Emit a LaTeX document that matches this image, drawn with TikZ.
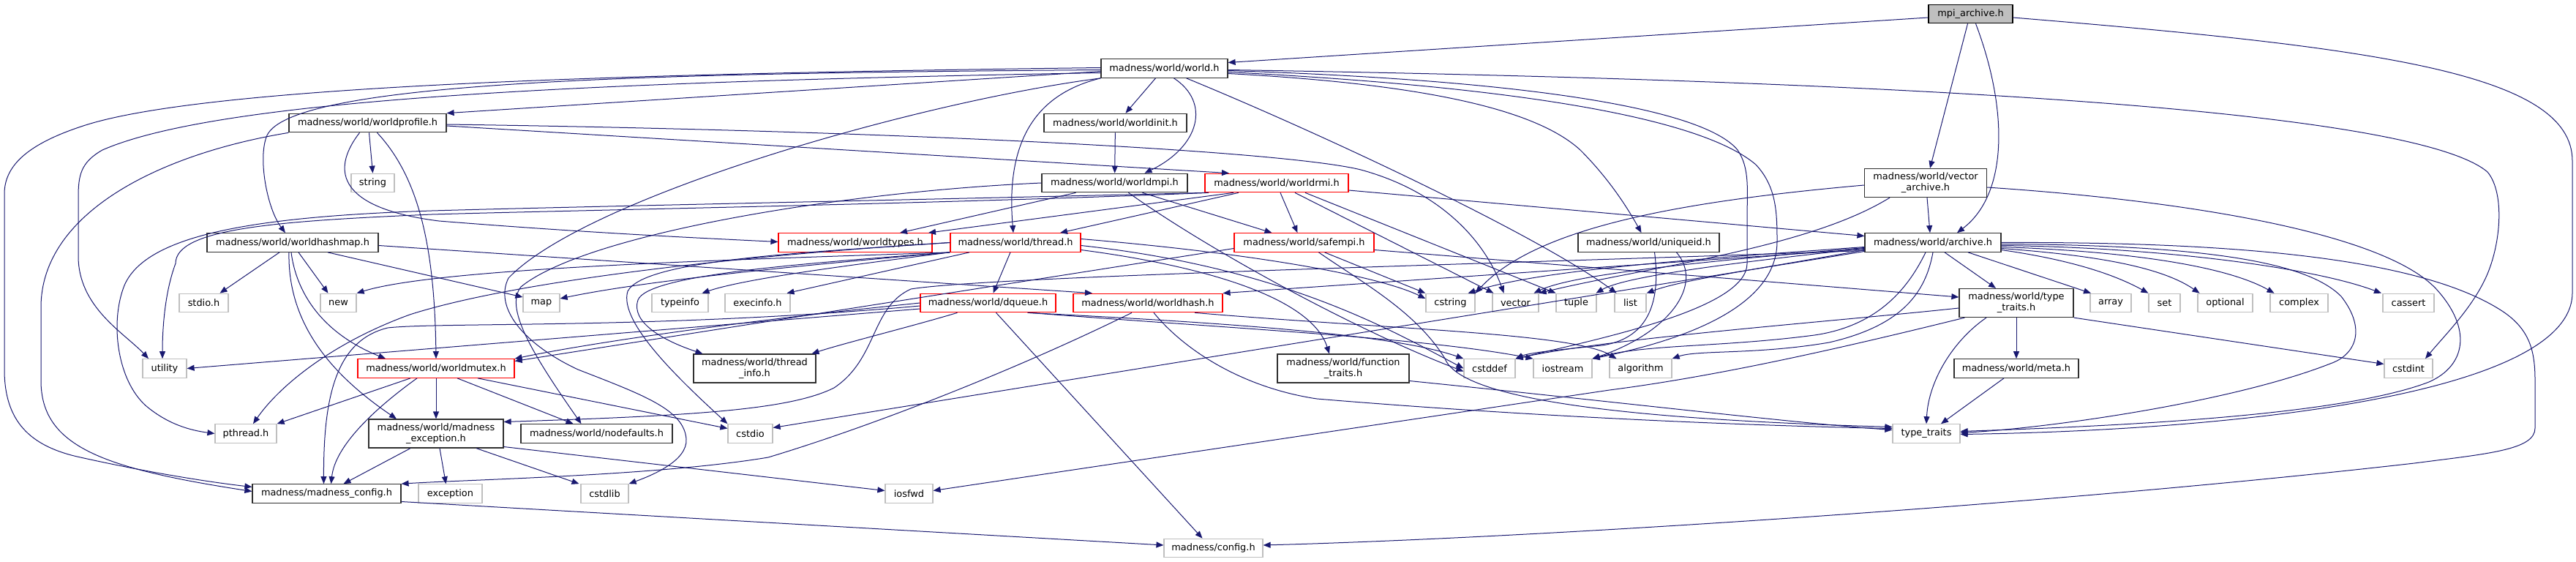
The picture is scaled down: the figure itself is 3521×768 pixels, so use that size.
\documentclass[tikz,border=0pt]{standalone}
\usepackage{fontspec}
\setmainfont{DejaVu Sans}
\usetikzlibrary{arrows.meta}
\definecolor{edgec}{HTML}{191970}
\definecolor{docc}{HTML}{303030}
\definecolor{truncc}{HTML}{FF0000}
\definecolor{extc}{HTML}{BFBFBF}
\definecolor{rootc}{HTML}{BFBFBF}
\newcommand\nodefont{\fontsize{12.9bp}{15bp}\selectfont}
\tikzset{
  box/.style={rectangle, inner sep=0pt, minimum height=25.5bp, font=\nodefont, line width=1.2bp, fill=white},
  doc/.style={box, draw=docc},
  trunc/.style={box, draw=truncc},
  ext/.style={box, draw=extc},
  root/.style={box, draw=black, fill=rootc},
  mw/.style={minimum width=#1bp},
  tall/.style={minimum height=39bp, align=center},
  ar/.style={draw=edgec, line width=1bp, -{Triangle[length=10bp,width=8bp]}}
}
\begin{document}
\begin{tikzpicture}[x=1bp,y=-1bp]
\path[use as bounding box] (0,0) rectangle (3521,768);
% ---- nodes ----
\node[root,mw=115] (mpi) at (2693.5,19) {mpi\_archive.h};
\node[doc,mw=173] (world) at (1591.5,93.5) {madness/world/world.h};
\node[doc,mw=215] (wprof) at (502.5,168) {madness/world/worldprofile.h};
\node[doc,mw=195] (winit) at (1524.5,168) {madness/world/worldinit.h};
\node[doc,mw=167,tall] (varch) at (2632,250) {madness/world/vector\\\_archive.h};
\node[doc,mw=199] (wmpi) at (1523.5,250) {madness/world/worldmpi.h};
\node[trunc,mw=196] (wrmi) at (1745,250) {madness/world/worldrmi.h};
\node[ext,mw=59] (string) at (509.5,250) {string};
\node[doc,mw=234] (whmap) at (400,331.5) {madness/world/worldhashmap.h};
\node[trunc,mw=210] (wtypes) at (1169,331.5) {madness/world/worldtypes.h};
\node[trunc,mw=178] (thread) at (1388,331.5) {madness/world/thread.h};
\node[trunc,mw=191] (safempi) at (1782.5,331.5) {madness/world/safempi.h};
\node[doc,mw=193] (uniqueid) at (2253.5,331.5) {madness/world/uniqueid.h};
\node[doc,mw=186] (archive) at (2642,331.5) {madness/world/archive.h};
\node[ext,mw=67] (stdio) at (278.5,414) {stdio.h};
\node[ext,mw=49] (new) at (462.5,414) {new};
\node[ext,mw=50] (map) at (740,414) {map};
\node[ext,mw=77] (typeinfo) at (929.5,414) {typeinfo};
\node[ext,mw=89] (execinfo) at (1035.5,414) {execinfo.h};
\node[trunc,mw=185] (dqueue) at (1350.5,414) {madness/world/dqueue.h};
\node[trunc,mw=204] (whash) at (1569,414) {madness/world/worldhash.h};
\node[ext,mw=67] (cstring) at (1982.5,414) {cstring};
\node[ext,mw=63] (vector) at (2071.5,414) {vector};
\node[ext,mw=55] (tuple) at (2154.5,414) {tuple};
\node[ext,mw=43] (list) at (2228.5,414) {list};
\node[doc,mw=156,tall] (ttrh) at (2756,414) {madness/world/type\\\_traits.h};
\node[ext,mw=56] (array) at (2885,414) {array};
\node[ext,mw=43] (set) at (2958.5,414) {set};
\node[ext,mw=75] (optional) at (3041.5,414) {optional};
\node[ext,mw=79] (complex) at (3142.5,414) {complex};
\node[ext,mw=70] (cassert) at (3292,414) {cassert};
\node[ext,mw=60] (util) at (225,503.5) {utility};
\node[trunc,mw=214] (wmutex) at (596,503.5) {madness/world/worldmutex.h};
\node[doc,mw=167,tall] (tinfo) at (1031.5,503.5) {madness/world/thread\\\_info.h};
\node[doc,mw=180,tall] (ftraits) at (1836,503.5) {madness/world/function\\\_traits.h};
\node[ext,mw=70] (cstddef) at (2036,503.5) {cstddef};
\node[ext,mw=80] (iostream) at (2136,503.5) {iostream};
\node[ext,mw=85] (algo) at (2242.5,503.5) {algorithm};
\node[doc,mw=170] (meta) at (2756,503.5) {madness/world/meta.h};
\node[ext,mw=66] (cstdint) at (3292,503.5) {cstdint};
\node[ext,mw=84] (pthread) at (336,592.5) {pthread.h};
\node[doc,mw=184,tall] (mexc) at (596,592.5) {madness/world/madness\\\_exception.h};
\node[doc,mw=207] (nodef) at (815.5,592.5) {madness/world/nodefaults.h};
\node[ext,mw=61] (cstdio) at (1025.5,592.5) {cstdio};
\node[ext,mw=92] (ttr) at (2633,592.5) {type\_traits};
\node[doc,mw=203] (mcfg) at (446.5,674.5) {madness/madness\_config.h};
\node[ext,mw=87] (exception) at (615.5,674.5) {exception};
\node[ext,mw=65] (cstdlib) at (826.5,674.5) {cstdlib};
\node[ext,mw=65] (iosfwd) at (1242.5,674.5) {iosfwd};
\node[ext,mw=135] (config) at (1658.5,749) {madness/config.h};
% ---- edges: mpi_archive.h ----
\draw[ar] ([yshift=-5bp]mpi.west) -- ([yshift=8bp]world.east);
\draw[ar] ([xshift=-4bp]mpi.south) -- ([xshift=6bp]varch.north);
\draw[ar] ([xshift=7bp]mpi.south) .. controls (2745,150) and (2745,265) .. ([xshift=33bp]archive.north);
\draw[ar] ([yshift=-5bp]mpi.east) .. controls (3250,65) and (3516,100) .. (3516,220) -- (3516,400) .. controls (3516,540) and (3050,588) .. ([yshift=-1bp]ttr.east);
% ---- world.h ----
\draw[ar] ([yshift=-4bp]world.west) -- (wprof.north east);
\draw[ar] ([xshift=-12bp]world.south) -- ([xshift=14bp]winit.north);
\draw[ar] ([xshift=13bp]world.south) .. controls (1655,140) and (1640,200) .. ([xshift=41bp]wmpi.north);
\draw[ar] (world.south west) .. controls (1410,130) and (1375,200) .. ([xshift=-3bp]thread.north);
\draw[ar] ([yshift=-2bp]world.west) .. controls (900,100) and (400,110) .. (365,185) .. controls (352,215) and (365,285) .. ([xshift=-10bp]whmap.north);
\draw[ar] ([yshift=1bp]world.west) .. controls (900,100) and (300,115) .. (120,170) .. controls (40,195) and (6,225) .. (6,265) -- (6,505) .. controls (6,575) and (40,610) .. (110,625) .. controls (200,645) and (280,658) .. ([yshift=9bp]mcfg.west);
\draw[ar] ([yshift=-6bp]world.west) .. controls (800,112) and (300,135) .. (140,205) .. controls (110,222) and (107,240) .. (107,270) -- (107,350) .. controls (107,420) and (170,455) .. ([xshift=-22bp]util.north);
\draw[ar] (world.south west) .. controls (1250,140) and (800,270) .. (695,380) .. controls (675,420) and (715,470) .. (790,505) .. controls (880,540) and (935,560) .. (938,600) .. controls (940,630) and (890,650) .. (cstdlib.north east);
\draw[ar] ([yshift=-2bp]world.east) .. controls (2600,110) and (3300,150) .. (3400,235) .. controls (3425,265) and (3418,340) .. (3395,385) .. controls (3375,425) and (3340,460) .. ([xshift=23bp]cstdint.north);
\draw[ar] ([yshift=-3bp]world.east) .. controls (2100,110) and (2330,150) .. (2375,205) .. controls (2392,230) and (2388,260) .. (2388,300) -- (2388,360) .. controls (2388,420) and (2200,460) .. (cstddef.north east);
\draw[ar] ([yshift=-5bp]world.east) .. controls (2100,120) and (2330,165) .. (2400,225) .. controls (2428,255) and (2429,290) .. (2429,330) .. controls (2429,420) and (2300,465) .. (iostream.north east);
\draw[ar] ([yshift=-7bp]world.east) .. controls (1950,115) and (2100,150) .. (2160,205) .. controls (2200,245) and (2225,285) .. ([xshift=-10bp]uniqueid.north);
\draw[ar] ([xshift=30bp]world.south) .. controls (1800,180) and (2100,320) .. ([xshift=-19bp]list.north);
% ---- worldprofile.h ----
\draw[ar] (wprof.south west) .. controls (220,210) and (56,290) .. (56,420) -- (56,520) .. controls (56,610) and (140,640) .. ([yshift=3bp]mcfg.west);
\draw[ar] ([xshift=-11bp]wprof.south) .. controls (450,235) and (465,285) .. (600,302) .. controls (800,318) and (950,325) .. ([yshift=1bp]wtypes.west);
\draw[ar] ([xshift=13bp]wprof.south) .. controls (570,240) and (594,330) .. (wmutex.north);
\draw[ar] ([xshift=2bp]wprof.south) -- (string.north);
\draw[ar] ([yshift=-4bp]wprof.east) -- ([xshift=-65bp]wrmi.north);
\draw[ar] ([yshift=-2bp]wprof.east) .. controls (1200,178) and (1750,205) .. (1860,232) .. controls (1970,262) and (2030,330) .. ([xshift=-16bp]vector.north);
% ---- worldinit / worldmpi ----
\draw[ar] (winit) -- (wmpi);
\draw[ar] ([xshift=-53bp]wmpi.south) -- ([xshift=61bp]wtypes.north);
\draw[ar] ([xshift=38bp]wmpi.south) -- ([xshift=-44bp]safempi.north);
\draw[ar] ([xshift=19bp]wmpi.south) .. controls (1650,340) and (1850,450) .. ([yshift=-4bp]cstddef.west);
\draw[ar] (wmpi.west) .. controls (1150,262) and (800,320) .. (712,392) .. controls (690,420) and (725,480) .. ([xshift=-21bp]nodef.north);
% ---- worldrmi.h ----
\draw[ar] ([yshift=-10bp]wrmi.east) -- ([yshift=9bp]archive.west);
\draw[ar] ([xshift=25bp]wrmi.south) -- ([xshift=-30bp]vector.north);
\draw[ar] ([xshift=39bp]wrmi.south) -- ([xshift=-28bp]tuple.north);
\draw[ar] ([xshift=5bp]wrmi.south) -- ([xshift=-9bp]safempi.north);
\draw[ar] ([xshift=-52bp]wrmi.south) -- ([xshift=61bp]thread.north);
\draw[ar] ([xshift=-59bp]wrmi.south) -- ([xshift=100bp]wtypes.north);
\draw[ar] ([xshift=-96bp]wrmi.south) .. controls (1300,272) and (800,282) .. (590,288) .. controls (350,296) and (200,320) .. (170,390) .. controls (150,440) and (160,520) .. (200,555) .. controls (230,580) and (260,588) .. (pthread.west);
\draw[ar] ([xshift=-93bp]wrmi.south) .. controls (1300,278) and (800,287) .. (590,293) .. controls (380,302) and (240,312) .. (240,360) .. controls (225,400) and (222,450) .. ([xshift=-3bp]util.north);
% ---- worldhashmap.h ----
\draw[ar] ([xshift=-18bp]whmap.south) -- ([xshift=22bp]stdio.north);
\draw[ar] ([xshift=8bp]whmap.south) -- ([xshift=-14bp]new.north);
\draw[ar] ([xshift=48bp]whmap.south) -- ([yshift=8bp]map.west);
\draw[ar] ([yshift=-4bp]whmap.east) -- ([xshift=-76bp]whash.north);
\draw[ar] ([xshift=-2bp]whmap.south) .. controls (405,400) and (440,455) .. ([xshift=-69bp]wmutex.north);
\draw[ar] ([xshift=-5bp]whmap.south) .. controls (393,440) and (450,510) .. ([xshift=-54bp]mexc.north);
% ---- thread.h ----
\draw[ar] (thread.south west) .. controls (1000,355) and (600,366) .. (new.north east);
\draw[ar] (thread.south west) .. controls (1150,358) and (900,380) .. ([yshift=6bp]map.east);
\draw[ar] (thread.south west) .. controls (1180,360) and (1020,380) .. ([xshift=30bp]typeinfo.north);
\draw[ar] ([xshift=-63bp]thread.south) -- ([xshift=40bp]execinfo.north);
\draw[ar] ([xshift=-7bp]thread.south) -- ([xshift=7bp]dqueue.north);
\draw[ar] (thread.south west) .. controls (1100,360) and (885,375) .. (872,410) .. controls (862,440) and (905,465) .. ([xshift=-71bp]tinfo.north);
\draw[ar] ([yshift=-10bp]thread.east) .. controls (1620,360) and (1790,400) .. ([xshift=-19bp]ftraits.north);
\draw[ar] (thread.west) .. controls (1100,345) and (880,355) .. (858,398) .. controls (845,440) and (930,520) .. (cstdio.north west);
\draw[ar] (thread.west) .. controls (1000,350) and (700,385) .. (560,430) .. controls (450,470) and (380,530) .. ([xshift=10bp]pthread.north);
\draw[ar] ([yshift=5bp]thread.east) .. controls (1700,345) and (1880,375) .. ([yshift=6bp]cstring.west);
\draw[ar] ([yshift=-4bp]thread.east) .. controls (1750,365) and (1900,450) .. (cstddef.west);
% ---- dqueue.h ----
\draw[ar] ([yshift=-8bp]dqueue.west) -- (util.east);
\draw[ar] ([yshift=-4bp]dqueue.west) .. controls (900,450) and (600,440) .. (530,448) .. controls (460,465) and (442,540) .. ([xshift=-4bp]mcfg.north);
\draw[ar] (dqueue.west) .. controls (1000,440) and (800,470) .. (wmutex.north east);
\draw[ar] ([xshift=-42bp]dqueue.south) .. controls (1250,445) and (1150,470) .. ([xshift=78bp]tinfo.north);
\draw[ar] ([xshift=11bp]dqueue.south) -- ([xshift=-15bp]config.north);
\draw[ar] ([xshift=54bp]dqueue.south) .. controls (1650,440) and (1900,455) .. (cstddef.north west);
\draw[ar] ([xshift=56bp]dqueue.south) .. controls (1700,450) and (1950,462) .. (iostream.north west);
% ---- worldhash.h ----
\draw[ar] ([xshift=-22bp]whash.south) .. controls (1400,500) and (1200,580) .. (1050,625) .. controls (900,650) and (650,655) .. (mcfg.north east);
\draw[ar] ([xshift=8bp]whash.south) .. controls (1620,480) and (1700,530) .. (1800,545) .. controls (2100,570) and (2400,582) .. ([yshift=7bp]ttr.west);
\draw[ar] ([xshift=64bp]whash.south) .. controls (1900,450) and (2150,455) .. ([xshift=-33bp]algo.north);
% ---- safempi.h ----
\draw[ar] ([yshift=-10bp]safempi.east) -- ([yshift=8bp]ttrh.west);
\draw[ar] ([xshift=28bp]safempi.south) -- (cstring.north west);
\draw[ar] ([xshift=20bp]safempi.south) .. controls (1860,385) and (1935,425) .. (1975,490) .. controls (2000,555) and (2300,575) .. ([yshift=9bp]ttr.west);
\draw[ar] ([yshift=-8bp]safempi.west) -- ([yshift=10bp]wmutex.east);
% ---- uniqueid.h ----
\draw[ar] ([xshift=8bp]uniqueid.south) .. controls (2270,410) and (2255,462) .. (2190,472) .. controls (2130,478) and (2090,482) .. (cstddef.north east);
\draw[ar] ([xshift=38bp]uniqueid.south) .. controls (2330,390) and (2280,455) .. (iostream.north east);
% ---- vector_archive.h ----
\draw[ar] ([xshift=2bp]varch.south) -- ([xshift=-4bp]archive.north);
\draw[ar] ([yshift=-3bp]varch.west) .. controls (2300,275) and (2100,310) .. (cstring.north east);
\draw[ar] ([xshift=-49bp]varch.south) .. controls (2470,340) and (2250,365) .. (vector.north east);
\draw[ar] ([yshift=-6bp]varch.east) .. controls (3000,275) and (3260,320) .. (3330,395) .. controls (3380,450) and (3370,500) .. (3320,522) .. controls (3200,568) and (2900,582) .. ([yshift=3bp]ttr.east);
% ---- archive.h ----
\draw[ar] ([yshift=-9bp]archive.west) -- (whash.north east);
\draw[ar] ([yshift=-11bp]archive.west) .. controls (2000,362) and (1350,378) .. (1245,395) .. controls (1190,420) and (1200,490) .. (1140,530) .. controls (1080,560) and (950,568) .. ([yshift=16bp]mexc.east);
\draw[ar] ([yshift=-12bp]archive.west) -- ([yshift=8bp]cstdio.east);
\draw[ar] ([yshift=-6bp]archive.west) .. controls (2300,355) and (2100,370) .. ([xshift=24bp]cstring.north);
\draw[ar] ([yshift=-7bp]archive.west) .. controls (2320,358) and (2150,375) .. ([xshift=25bp]vector.north);
\draw[ar] ([yshift=-8bp]archive.west) .. controls (2360,360) and (2220,378) .. ([xshift=27bp]tuple.north);
\draw[ar] ([yshift=-10bp]archive.west) .. controls (2420,365) and (2300,382) .. (list.north east);
\draw[ar] ([xshift=16bp]archive.south) -- ([xshift=-28bp]ttrh.north);
\draw[ar] ([xshift=48bp]archive.south) -- ([xshift=-27bp]array.north);
\draw[ar] ([yshift=-10bp]archive.east) .. controls (2830,355) and (2890,375) .. (set.north west);
\draw[ar] ([yshift=-8bp]archive.east) .. controls (2850,348) and (2950,362) .. ([xshift=-35bp]optional.north);
\draw[ar] ([yshift=-6bp]archive.east) .. controls (2900,343) and (3040,362) .. ([xshift=-34bp]complex.north);
\draw[ar] ([yshift=-4bp]archive.east) .. controls (2950,338) and (3160,365) .. ([xshift=-37bp]cassert.north);
\draw[ar] ([yshift=-2bp]archive.east) .. controls (3050,335) and (3160,365) .. (3200,405) .. controls (3235,450) and (3220,485) .. (3185,497) .. controls (3050,550) and (2800,585) .. ([yshift=1bp]ttr.east);
\draw[ar] (archive.east) .. controls (3100,330) and (3320,360) .. (3420,425) .. controls (3458,450) and (3465,480) .. (3465,520) -- (3465,585) .. controls (3465,615) and (3400,620) .. (3300,633) .. controls (2800,690) and (2100,735) .. ([yshift=4bp]config.east);
\draw[ar] (archive.south) .. controls (2632,400) and (2600,445) .. (2500,468) .. controls (2400,485) and (2320,478) .. (algo.north east);
\draw[ar] ([xshift=-10bp]archive.south) .. controls (2610,390) and (2570,445) .. (2480,458) .. controls (2350,475) and (2250,470) .. (iostream.north east);
% ---- madness/world/type_traits.h ----
\draw[ar] (ttrh) -- (meta);
\draw[ar] ([xshift=-41bp]ttrh.south) .. controls (2670,465) and (2636,520) .. (ttr.north);
\draw[ar] (ttrh.south east) -- ([yshift=6bp]cstdint.west);
\draw[ar] ([yshift=-7bp]ttrh.west) .. controls (2500,440) and (2200,462) .. (cstddef.north east);
\draw[ar] ([xshift=8bp]ttrh.south west) .. controls (2500,480) and (2340,515) .. (2200,533) -- ([yshift=4bp]iosfwd.east);
\draw[ar] ([xshift=-17bp]meta.south) -- ([xshift=20bp]ttr.north);
\draw[ar] ([yshift=-17bp]ftraits.east) .. controls (2200,548) and (2450,578) .. ([yshift=5bp]ttr.west);
% ---- worldmutex.h ----
\draw[ar] (wmutex.south) -- (mexc.north);
\draw[ar] ([xshift=-26bp]wmutex.south) .. controls (510,560) and (458,610) .. ([xshift=6bp]mcfg.north);
\draw[ar] ([xshift=-35bp]wmutex.south) -- (pthread.north east);
\draw[ar] ([xshift=29bp]wmutex.south) -- ([xshift=-32bp]nodef.north);
\draw[ar] ([xshift=57bp]wmutex.south) -- ([yshift=7bp]cstdio.west);
% ---- madness_exception.h ----
\draw[ar] ([xshift=5bp]mexc.south) -- ([xshift=-6bp]exception.north);
\draw[ar] ([xshift=55bp]mexc.south) -- ([xshift=-35bp]cstdlib.north);
\draw[ar] ([xshift=-35bp]mexc.south) -- ([xshift=23bp]mcfg.north);
\draw[ar] ([yshift=-18bp]mexc.east) -- ([yshift=4bp]iosfwd.west);
% ---- madness_config.h ----
\draw[ar] ([yshift=-11bp]mcfg.east) -- ([yshift=4bp]config.west);
\end{tikzpicture}
\end{document}
